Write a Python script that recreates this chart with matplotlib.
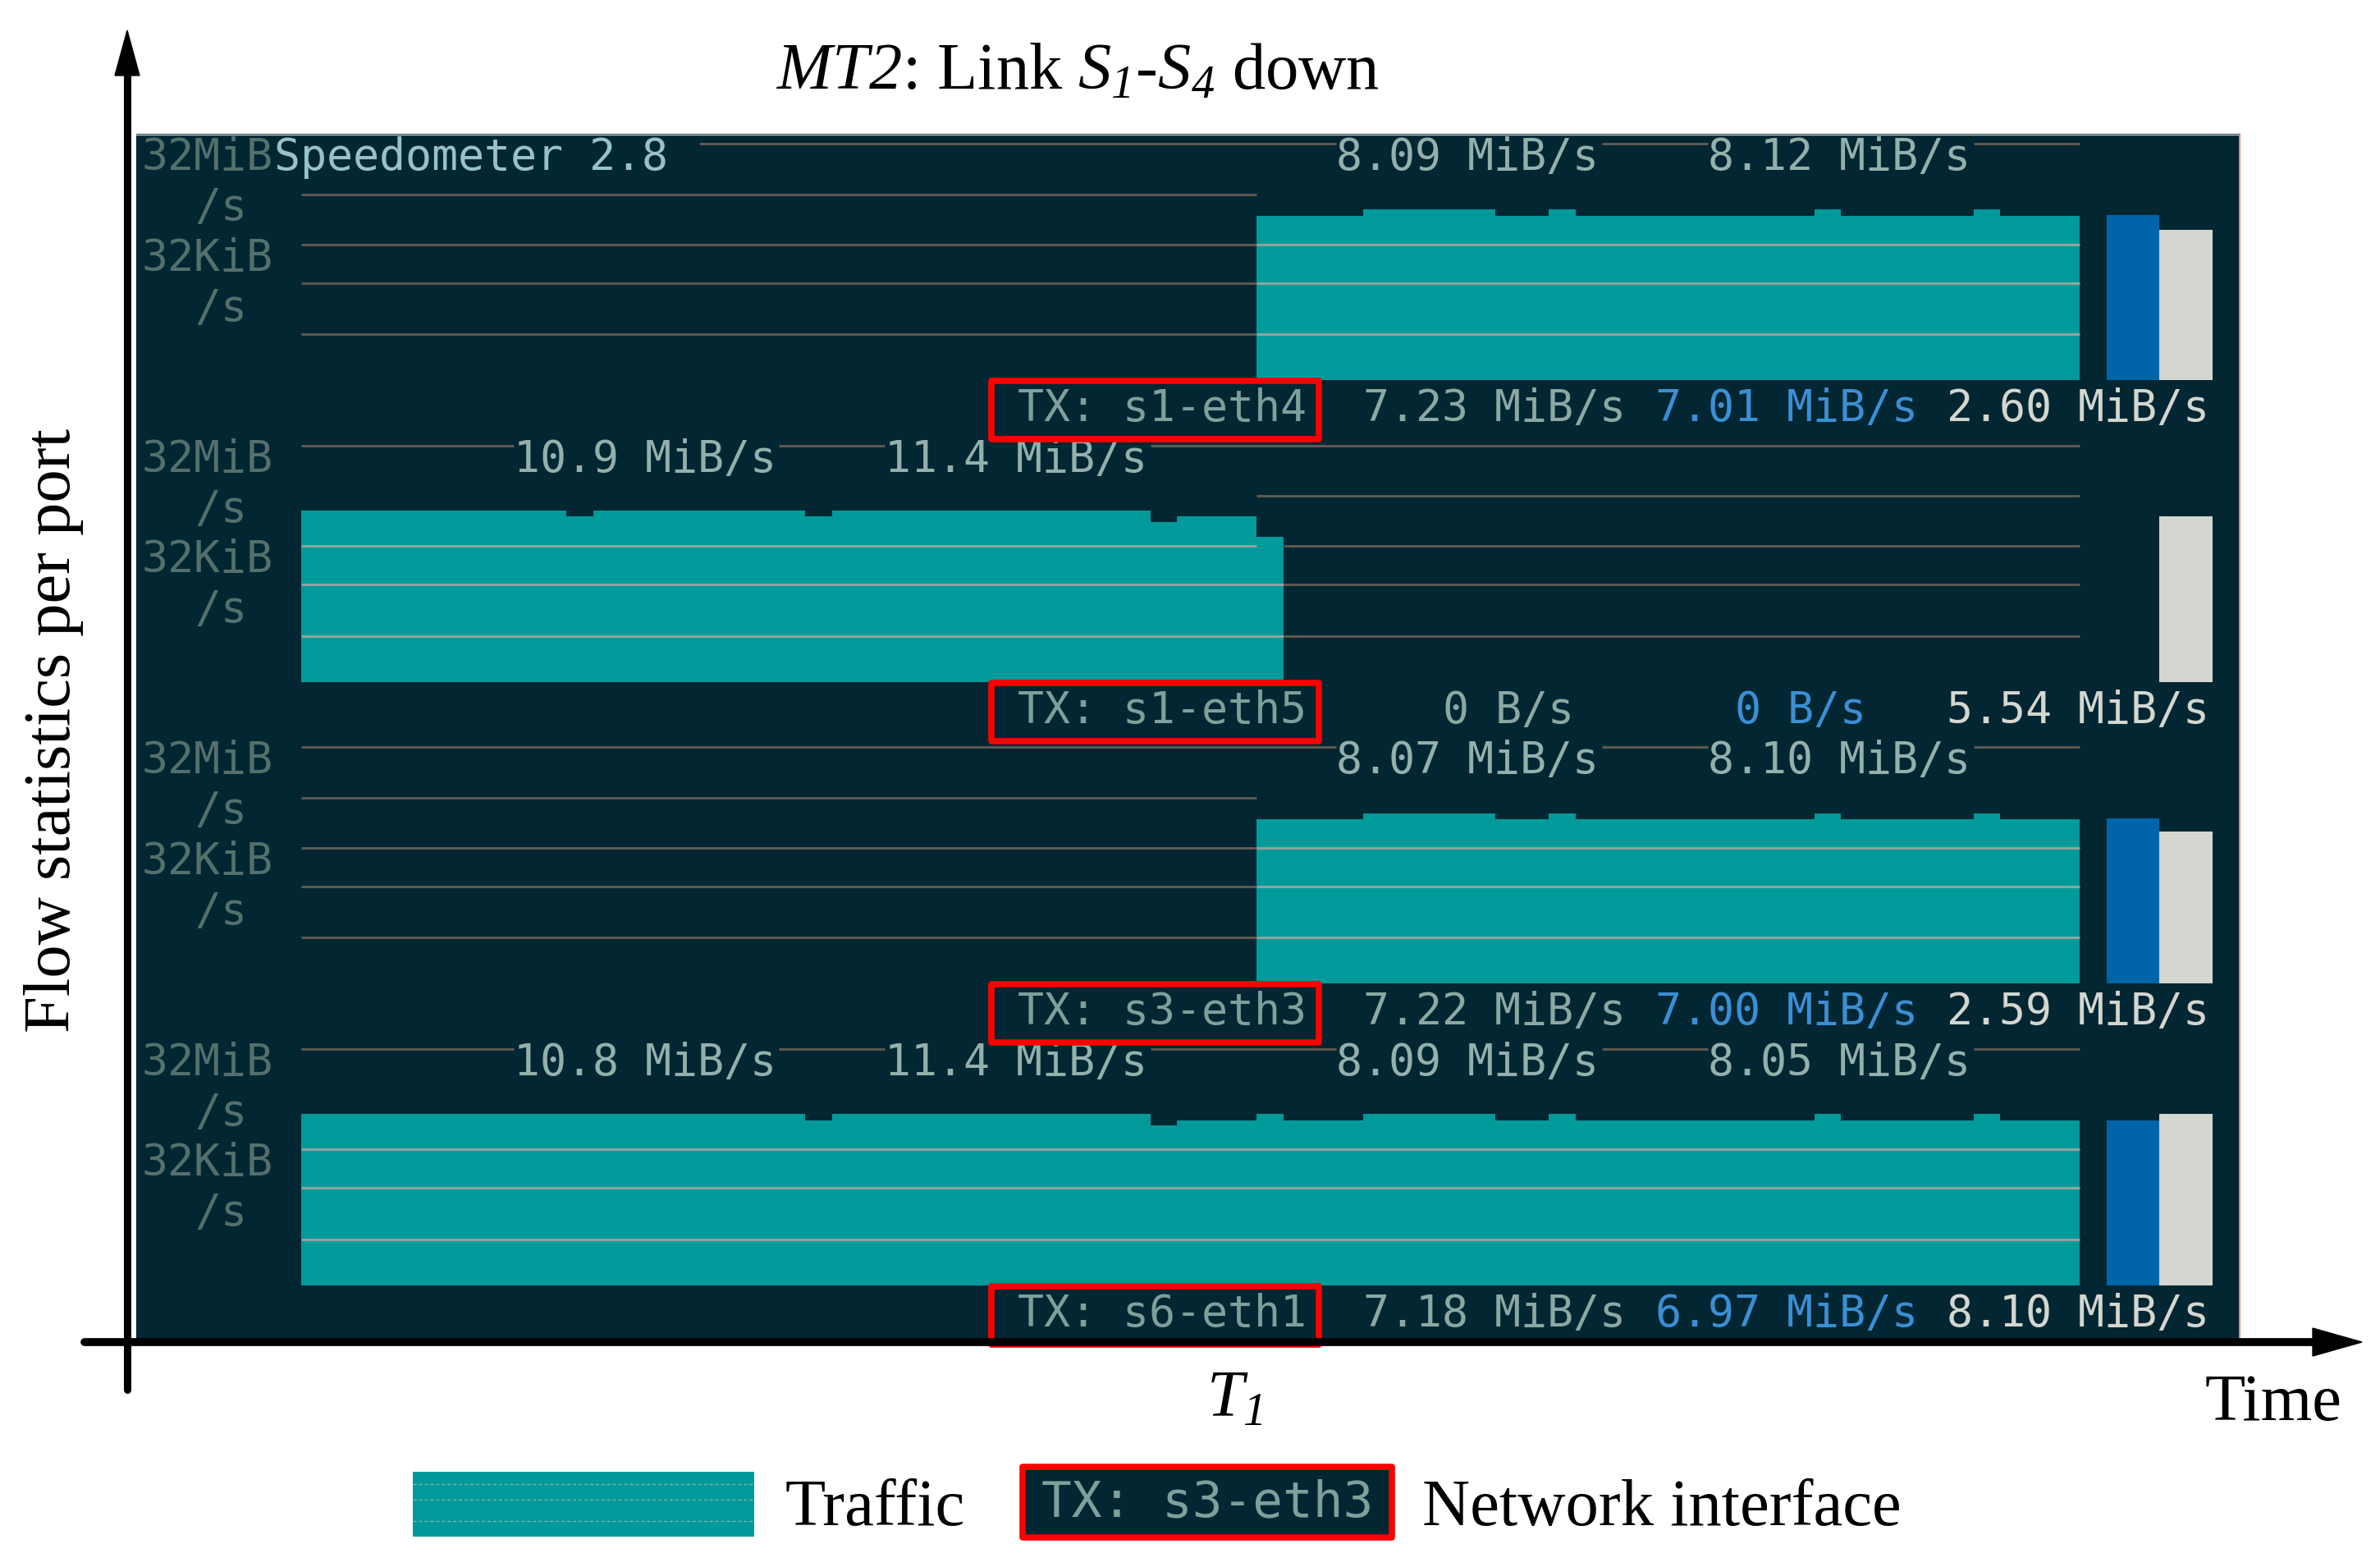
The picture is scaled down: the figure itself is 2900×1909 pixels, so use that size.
import matplotlib
matplotlib.use('Agg')
import matplotlib.pyplot as plt
from matplotlib.patches import Rectangle, Polygon
import numpy as np

# math text is only used for the italic labels, so both slots get the italic face
plt.rcParams['mathtext.fontset'] = 'custom'
plt.rcParams['mathtext.rm'] = 'Liberation Serif:italic'
plt.rcParams['mathtext.it'] = 'Liberation Serif:italic'

# ---------------- data ----------------
interfaces = ['s1-eth4', 's1-eth5', 's3-eth3', 's6-eth1']

# traffic per terminal column, as runs of (number of columns, MiB/s)
traffic_s1_eth4 = [(36, 0), (4, 8.05), (5, 10.6), (2, 8.05), (1, 10.6), (9, 8.05),
                   (1, 10.6), (5, 8.05), (1, 10.6), (3, 8.05)]
traffic_s1_eth5 = [(10, 10.9), (1, 8.5), (8, 10.9), (1, 8.5), (12, 10.9), (1, 6.5),
                   (3, 8.5), (1, 3.4), (30, 0)]
traffic_s3_eth3 = [(36, 0), (4, 7.9), (5, 10.4), (2, 7.9), (1, 10.4), (9, 7.9),
                   (1, 10.4), (5, 7.9), (1, 10.4), (3, 7.9)]
traffic_s6_eth1 = [(19, 10.8), (1, 8.2), (12, 10.8), (1, 6.5), (3, 8.2), (1, 10.8),
                   (3, 8.2), (5, 10.8), (2, 8.2), (1, 10.8), (9, 8.2), (1, 10.8),
                   (5, 8.2), (1, 10.8), (3, 8.2)]
traffic = [traffic_s1_eth4, traffic_s1_eth5, traffic_s3_eth3, traffic_s6_eth1]

# labels written into the top line of each graph: (column, text)
top_labels = [
    [(5, 'Speedometer 2.8 '), (45, '8.09 MiB/s'), (59, '8.12 MiB/s')],
    [(14, '10.9 MiB/s'), (28, '11.4 MiB/s')],
    [(45, '8.07 MiB/s'), (59, '8.10 MiB/s')],
    [(14, '10.8 MiB/s'), (28, '11.4 MiB/s'), (45, '8.09 MiB/s'), (59, '8.05 MiB/s')],
]
# y scale labels: (row, column, text)
scale_labels = [(0, 0, '32MiB'), (1, 2, '/s'), (2, 0, '32KiB'), (3, 2, '/s')]

rate_1 = ['7.23 MiB/s', '0 B/s', '7.22 MiB/s', '7.18 MiB/s']
rate_2 = ['7.01 MiB/s', '0 B/s', '7.00 MiB/s', '6.97 MiB/s']
rate_3 = ['2.60 MiB/s', '5.54 MiB/s', '2.59 MiB/s', '8.10 MiB/s']

# the two meter bars at the right of each graph (same scale as graph)
meter_blue = [8.3, 0, 8.2, 8.2]
meter_grey = [4.3, 8.45, 4.6, 10.7]

# ---------------- layout / style ----------------
W, H = 2900, 1909
TERM = (166, 163, 2728, 1633)         # left, top, right, bottom (px)
COL0, COLW, ROWH = 172.6, 32.35, 61.25
PANEL_ROWS = 6
GRAPH_COL0 = 6
GRAPH_H = 300
SCALE_TOP, SCALE_BOTTOM = 289.0, 0.00602
LINE_ROWS = [0.196, 1.208, 2.204, 2.971, 3.984]
NUM_END = [49, 60, 71]

BG = '#022632'
TEAL = '#009a9a'
BLUE_BAR = '#0064a8'
GREY_BAR = '#d3d7cf'
LINE_DARK = '#5c5850'
LINE_LIGHT = '#8ea3a1'
DIM = '#54706c'
MONO = 'DejaVu Sans Mono'
SERIF = 'Liberation Serif'
FS_MONO = 38.3


def fig_rect(l, t, r, b):
    return [l / W, 1 - b / H, (r - l) / W, (b - t) / H]


def expand(runs):
    return np.concatenate([np.full(n, v, dtype=float) for n, v in runs])


fig = plt.figure(figsize=(29, 19.09), dpi=100)

term = fig.add_axes(fig_rect(*TERM), zorder=1)
term.set_facecolor(BG)
term.set_xlim((TERM[0] - COL0) / COLW, (TERM[2] - COL0) / COLW)
term.set_ylim((TERM[3] - TERM[1]) / ROWH, 0)
term.set_xticks([])
term.set_yticks([])
for s in term.spines.values():
    s.set_visible(False)


def put(row, col, s, color):
    term.text(col, row + 0.72, s, family=MONO, fontsize=FS_MONO, color=color,
              ha='left', va='baseline')


for p in range(4):
    r0 = p * PANEL_ROWS
    for r, c, s in scale_labels:
        put(r0 + r, c, s, DIM)
    for c, s in top_labels[p]:
        put(r0, c, s, '#96c4c6' if s.startswith('Speed') else '#93b0ad')

    # interface line
    put(r0 + 5, 33, 'TX: ' + interfaces[p], '#7f9f9c')
    for s, end, col in zip([rate_1[p], rate_2[p], rate_3[p]], NUM_END,
                           ['#8ba8a3', '#3b8fd4', '#d3d7cf']):
        num = s.split()[0]
        put(r0 + 5, end - len(num) + 1, s, col)

    # graph axes with the log rate scale
    top = TERM[1] + r0 * ROWH
    gax = fig.add_axes(fig_rect(TERM[0], top, TERM[2], top + GRAPH_H), zorder=2)
    gax.set_xlim(term.get_xlim())
    gax.set_yscale('log', base=2)
    gax.set_ylim(SCALE_BOTTOM, SCALE_TOP)
    gax.patch.set_alpha(0)
    gax.axis('off')

    rates = expand(traffic[p])
    edges = np.arange(GRAPH_COL0, GRAPH_COL0 + len(rates) + 1)
    shown = np.where(rates > 0, rates, SCALE_BOTTOM)
    gax.stairs(shown, edges, baseline=SCALE_BOTTOM, fill=True, color=TEAL, lw=0)

    for x, v, c in [(74, meter_blue[p], BLUE_BAR), (76, meter_grey[p], GREY_BAR)]:
        if v > 0:
            gax.bar(x, v - SCALE_BOTTOM, width=2, align='edge', bottom=SCALE_BOTTOM,
                    color=c, lw=0)

    # row where each column's bar ends, in terminal rows
    to_rows = gax.transData + term.transData.inverted()
    tops = to_rows.transform(np.column_stack([edges[:-1], shown]))[:, 1] - r0

    occupied = {c for c0, s in top_labels[p] for c in range(c0, c0 + len(s))}
    for k, yl in enumerate(LINE_ROWS):
        segs = []
        for i, c in enumerate(edges[:-1]):
            has = rates[i] > 0
            if has and int(tops[i]) == k:
                continue
            if k == 0 and c in occupied:
                continue
            color = LINE_LIGHT if (has and tops[i] < yl) else LINE_DARK
            if segs and segs[-1][1] == c and segs[-1][2] == color:
                segs[-1][1] = c + 1
            else:
                segs.append([c, c + 1, color])
        for x0, x1, color in segs:
            gax.hlines(r0 + yl, x0, x1, colors=color, lw=2.2,
                       transform=term.transData)

# ---------------- overlay: axes arrows, titles, legend ----------------
ov = fig.add_axes([0, 0, 1, 1], zorder=5)
ov.set_xlim(0, W)
ov.set_ylim(H, 0)
ov.axis('off')
ov.patch.set_alpha(0)

ov.plot([166, 2728], [163.5, 163.5], color='#c5cfd0', lw=1)
ov.plot([2729, 2729], [163, 1633], color='#e07a4a', lw=1.2)

ov.plot([155, 155], [1693, 80], color='black', lw=6.5, solid_capstyle='round')
ov.add_patch(Polygon([(155, 37), (140, 92), (170, 92)], color='black'))
ov.plot([103, 2830], [1635, 1635], color='black', lw=7, solid_capstyle='round')
ov.add_patch(Polygon([(2878, 1635), (2818, 1618), (2818, 1652)], color='black'))

for p in range(4):
    r0 = p * PANEL_ROWS
    ov.add_patch(Rectangle((32.0, r0 + 4.92), 12.35, 1.16, transform=term.transData,
                           fill=False, ec='#ff0000', lw=5.5, joinstyle='round',
                           clip_on=False))

ov.text(1313, 109, r'$MT2$: Link $S_{1}$-$S_{4}$ down',
        family=SERIF, fontsize=58, ha='center', va='baseline')
ov.text(1470, 1726, r'$T_{1}$', family=SERIF, fontsize=58,
        ha='left', va='baseline')
ov.text(2687, 1730, 'Time', family=SERIF, fontsize=58, ha='left', va='baseline')
ov.text(66, 890, 'Flow statistics per port', family=SERIF, fontsize=58,
        rotation=90, ha='center', va='center')

# legend
ov.add_patch(Rectangle((503, 1793), 416, 79, color=TEAL, lw=0))
for yl in [1808, 1827, 1853]:
    ov.plot([503, 919], [yl, yl], color='#7fb3b2', lw=1, ls=(0, (3, 2)))
ov.text(957, 1858, 'Traffic', family=SERIF, fontsize=58, ha='left', va='baseline')
ov.add_patch(Rectangle((1246, 1787), 450, 86, fc=BG, ec='#ff0000', lw=5.5,
                       joinstyle='round'))
ov.text(1471, 1847, 'TX: s3-eth3', family=MONO, fontsize=44, color='#7f9f9c',
        ha='center', va='baseline')
ov.text(1733, 1858, 'Network interface', family=SERIF, fontsize=58,
        ha='left', va='baseline')

fig.savefig('out.png', dpi=100, facecolor='white')
